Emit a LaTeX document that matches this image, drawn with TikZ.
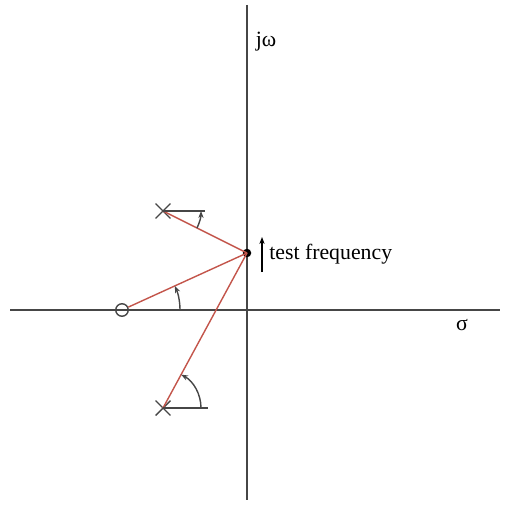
\documentclass[tikz,border=0pt]{standalone}
\usepackage{fontspec}
\setmainfont{Liberation Serif}
\usetikzlibrary{arrows.meta,shapes.misc}
\definecolor{rootline}{RGB}{195,85,75}
\definecolor{axisgray}{RGB}{70,70,70}

\begin{document}
\begin{tikzpicture}[x=0.02cm, y=-0.02cm, font=\fontsize{12.4}{14}\selectfont,
    pole/.style={cross out, draw=axisgray, thick, minimum size=0.27cm, inner sep=0pt},
    zeromark/.style={circle, draw=axisgray, thick, minimum size=0.25cm, inner sep=0pt},
    testpt/.style={circle, fill=black, minimum size=0.17cm, inner sep=0pt},
    angarrow/.style={axisgray, thick, -{Stealth[length=4pt,width=3pt]}}]
    \useasboundingbox (0,0) rectangle (505,506);
    % axes
    \draw[axisgray, thick] (10,310) -- (500,310);
    \draw[axisgray, thick] (247,5) -- (247,500);
    \node (jw) at (266,42) {jω};
    \node (sig) at (462,325) {σ};
    % poles, zero and test point
    \node[pole] (p1) at (163,211) {};
    \node[pole] (p2) at (163,408) {};
    \node[zeromark] (z) at (122,310) {};
    \node[testpt] (s) at (247,253) {};
    % vectors to the test point
    \draw[rootline, thick] (p1.center) -- (s.center);
    \draw[rootline, thick] (p2.center) -- (s.center);
    \draw[rootline, thick] (z) -- (s.center);
    % reference lines and angles
    \draw[axisgray, thick] (p1.center) -- ++(42,0);
    \draw[axisgray, thick] (p2.center) -- ++(45,0);
    \draw[angarrow] (p1.center) ++(26.6:38) arc[start angle=26.6, end angle=0, radius=38];
    \draw[angarrow] (z.center) ++(0:58) arc[start angle=0, end angle=-24.5, radius=58];
    \draw[angarrow] (p2.center) ++(0:38) arc[start angle=0, end angle=-61.5, radius=38];
    % test frequency
    \node[right, inner sep=0pt] (tf) at (269,254) {test frequency};
    \draw[black, thick, -{Stealth[length=4pt,width=3pt]}] (262,272) -- (262,237);
\end{tikzpicture}
\end{document}
